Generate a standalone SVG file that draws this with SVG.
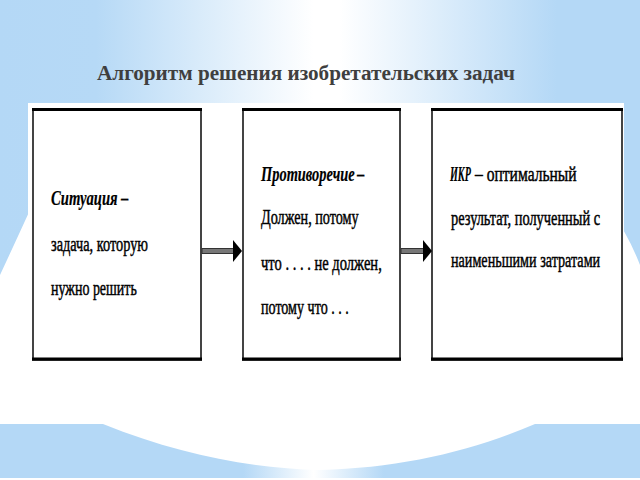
<svg xmlns="http://www.w3.org/2000/svg" width="640" height="480" viewBox="0 0 640 480">
<defs>
<linearGradient id="topg" x1="0" y1="0" x2="640" y2="0" gradientUnits="userSpaceOnUse">
<stop offset="0" stop-color="#b4d8f6"/>
<stop offset="0.15" stop-color="#b6d9f6"/>
<stop offset="0.49" stop-color="#ffffff"/>
<stop offset="0.53" stop-color="#ffffff"/>
<stop offset="0.87" stop-color="#b4d8f6"/>
<stop offset="1" stop-color="#b4d8f6"/>
</linearGradient>
<linearGradient id="botg" x1="0" y1="0" x2="640" y2="0" gradientUnits="userSpaceOnUse">
<stop offset="0" stop-color="#b4d8f6"/>
<stop offset="0.38" stop-color="#b4d8f6"/>
<stop offset="0.49" stop-color="#ffffff"/>
<stop offset="0.6" stop-color="#b4d8f6"/>
<stop offset="1" stop-color="#b4d8f6"/>
</linearGradient>
<style>
.t{font-family:"Liberation Serif","Times New Roman",serif;font-size:22px;fill:#000;stroke:#000;stroke-width:0.5}
.bi{font-weight:bold;font-style:italic;stroke-width:0.2}
.b{font-weight:bold;stroke-width:0.2}
.title{font-family:"Liberation Serif","Times New Roman",serif;font-size:20px;font-weight:bold;fill:#3f3f3f}
.box{fill:#fff;stroke:#444;stroke-width:2}
.edge{stroke:#000;stroke-width:3}
.shaft{fill:#777;stroke:#333;stroke-width:1}
.head{fill:#000}
</style>
</defs>
<g id="background">
<rect x="0" y="0" width="640" height="480" fill="url(#topg)"/>
<path d="M0,275 Q14,245 30,210 L610,210 Q628,234 640,265 L640,480 L0,480 Z" fill="#fff"/>
<path d="M0,424 L103,424 C180,455 250,468 320,470 C400,468 470,452 535,424 L640,424 L640,478 L0,478 Z" fill="url(#botg)"/>
<rect x="28" y="103" width="596" height="300" fill="#fff"/>
</g>
<text class="title" x="97" y="80" textLength="418" lengthAdjust="spacingAndGlyphs">Алгоритм решения изобретательских задач</text>
<g id="node-situation">
<rect class="box" x="33" y="109" width="168" height="251"/>
<line class="edge" x1="32" y1="109.5" x2="202" y2="109.5"/>
<line class="edge" x1="32" y1="359" x2="202" y2="359"/>
<text class="t bi" transform="translate(51,205) scale(0.66,1)" textLength="101" lengthAdjust="spacingAndGlyphs">Ситуация</text>
<text class="t b" transform="translate(121,205) scale(0.66,1)">–</text>
<text class="t" transform="translate(51,251) scale(0.66,1)" textLength="147" lengthAdjust="spacingAndGlyphs">задача, которую</text>
<text class="t" transform="translate(51,295) scale(0.66,1)" textLength="130" lengthAdjust="spacingAndGlyphs">нужно решить</text>
</g>
<g id="node-contradiction">
<rect class="box" x="243" y="109" width="157" height="251"/>
<line class="edge" x1="242" y1="109.5" x2="401" y2="109.5"/>
<line class="edge" x1="242" y1="359" x2="401" y2="359"/>
<text class="t bi" transform="translate(261,181) scale(0.66,1)" textLength="142" lengthAdjust="spacingAndGlyphs">Противоречие</text>
<text class="t b" transform="translate(357,181) scale(0.66,1)">–</text>
<text class="t" transform="translate(261,224) scale(0.66,1)" textLength="148" lengthAdjust="spacingAndGlyphs">Должен, потому</text>
<text class="t" transform="translate(261,270) scale(0.66,1)" textLength="183" lengthAdjust="spacingAndGlyphs">что . . . . не должен,</text>
<text class="t" transform="translate(261,314) scale(0.66,1)" textLength="133" lengthAdjust="spacingAndGlyphs">потому что . . .</text>
</g>
<g id="node-ikr">
<rect class="box" x="432" y="109" width="190" height="251"/>
<line class="edge" x1="431" y1="109.5" x2="623" y2="109.5"/>
<line class="edge" x1="431" y1="359" x2="623" y2="359"/>
<text class="t bi" transform="translate(450,181) scale(0.46,1)">ИКР</text>
<text class="t" transform="translate(475,181) scale(0.66,1)" textLength="154" lengthAdjust="spacingAndGlyphs">– оптимальный</text>
<text class="t" transform="translate(451,225) scale(0.66,1)" textLength="226" lengthAdjust="spacingAndGlyphs">результат, полученный с</text>
<text class="t" transform="translate(451,267) scale(0.66,1)" textLength="226" lengthAdjust="spacingAndGlyphs">наименьшими затратами</text>
</g>
<g id="connectors">
<rect class="shaft" x="202" y="248.5" width="32" height="5"/>
<polygon class="head" points="233,240 242,251 233,262"/>
<rect class="shaft" x="401" y="248.5" width="23" height="5"/>
<polygon class="head" points="423,240 432,251 423,262"/>
</g>
</svg>
